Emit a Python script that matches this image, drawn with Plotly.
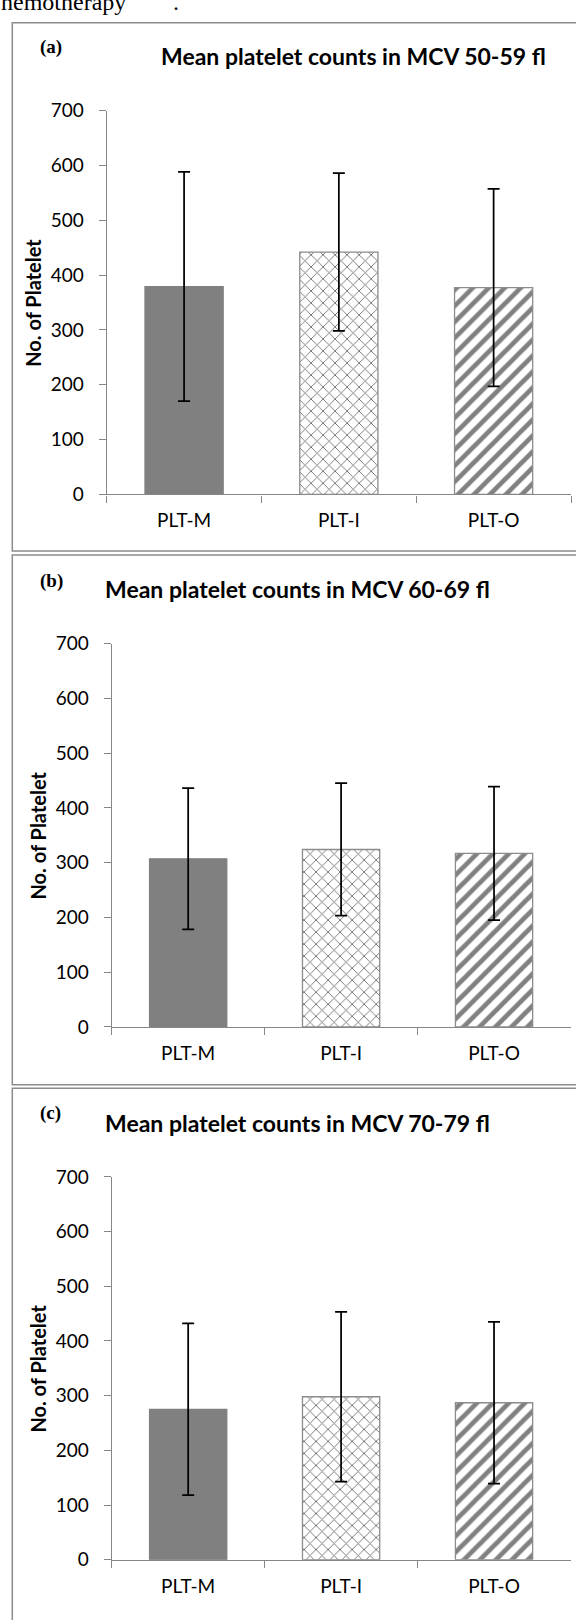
import plotly.graph_objects as go

# ---- data ----
categories = ["PLT-M", "PLT-I", "PLT-O"]
panel_titles = ["Mean platelet counts in MCV 50-59 fl",
                "Mean platelet counts in MCV 60-69 fl",
                "Mean platelet counts in MCV 70-79 fl"]
panel_tags = ["(a)", "(b)", "(c)"]
means_a = [379, 442, 377]
errors_a = [209, 144, 180]
means_b = [307, 324, 317]
errors_b = [129, 121, 122]
means_c = [275, 298, 287]
errors_c = [157, 155, 148]
y_ticks = [0, 100, 200, 300, 400, 500, 600, 700]
y_title = "No. of Platelet"

W, H = 576, 1620
def px(x):
    return x / W
def py(y):
    return 1 - y / H

GRAY = "#868686"
SANS = "Lato"

# per-category bar styles
bar_styles = [
    dict(color="#808080", line="#808080", shape="", fg="#808080", size=8, solidity=0.2),
    dict(color="#ffffff", line="#8c8c8c", shape="x", fg="#707070", size=8.5, solidity=0.2),
    dict(color="#ffffff", line="#8c8c8c", shape="/", fg="#808080", size=11.3, solidity=0.42),
]

fig = go.Figure()

panels = [
    dict(means=means_a, errs=errors_a, x0=106.7, x1=571.0, y700=100.0, y0=489.3,
         top=11.0, bottom=546.7, tag=(50.5, 36.0), title=(159.3, 45.0), ytit=33.3),
    dict(means=means_b, errs=errors_b, x0=111.7, x1=570.5, y700=640.7, y0=1029.5,
         top=550.7, bottom=1088.3, tag=(51.0, 576.7), title=(103.3, 585.0), ytit=38.3),
    dict(means=means_c, errs=errors_c, x0=111.7, x1=570.5, y700=1181.7, y0=1570.0,
         top=1091.7, bottom=1650.0, tag=(50.5, 1117.0), title=(103.3, 1126.7), ytit=38.3),
]

annotations = []
shapes = []
for i, p in enumerate(panels):
    n = i + 1
    xa = "x" if n == 1 else f"x{n}"
    ya = "y" if n == 1 else f"y{n}"
    for j, cat in enumerate(categories):
        s = bar_styles[j]
        marker = dict(color=s["color"], line=dict(color=s["line"], width=1.3))
        if s["shape"]:
            marker["pattern"] = dict(shape=s["shape"], fgcolor=s["fg"], bgcolor=s["color"],
                                     size=s["size"], solidity=s["solidity"],
                                     fillmode="replace")
        fig.add_trace(go.Bar(
            x=[cat], y=[p["means"][j]], xaxis=xa, yaxis=ya, width=0.505,
            marker=marker,
            error_y=dict(type="data", array=[p["errs"][j]], visible=True,
                         color="black", thickness=1.75, width=6),
            showlegend=False, hoverinfo="skip",
        ))
    xkey = "xaxis" if n == 1 else f"xaxis{n}"
    ykey = "yaxis" if n == 1 else f"yaxis{n}"
    fig.update_layout({
        xkey: dict(domain=[px(p["x0"]), px(p["x1"])], anchor=ya, type="category",
                   categoryorder="array", categoryarray=categories,
                   showline=True, linecolor=GRAY, linewidth=1.3,
                   ticks="outside", tickson="boundaries", ticklen=7,
                   tickcolor=GRAY, tickwidth=1.3, showgrid=False,
                   tickfont=dict(family=SANS, size=19, color="#000000"),
                   ticklabelstandoff=9, fixedrange=True),
        ykey: dict(domain=[py(p["y0"]), py(p["y700"])], anchor=xa,
                   range=[0, 700], tickvals=y_ticks,
                   showline=True, linecolor=GRAY, linewidth=1.3,
                   ticks="outside", ticklen=7, tickcolor=GRAY, tickwidth=1.3,
                   showgrid=False, zeroline=False,
                   tickfont=dict(family=SANS, size=19, color="#000000"),
                   ticklabelstandoff=11, fixedrange=True),
    })
    # panel frame
    shapes.append(dict(type="rect", xref="paper", yref="paper",
                       x0=px(12.3), x1=px(590), y0=py(p["bottom"]), y1=py(p["top"]),
                       line=dict(color="#8c8c8c", width=1.5), fillcolor="rgba(0,0,0,0)",
                       layer="below"))
    annotations.append(dict(text=panel_tags[i], xref="paper", yref="paper",
                            x=px(p["tag"][0]), y=py(p["tag"][1]),
                            xanchor="center", yanchor="middle", showarrow=False,
                            font=dict(family="Liberation Serif", size=19, color="#000000",
                                      weight="bold")))
    annotations.append(dict(text=panel_titles[i], xref="paper", yref="paper",
                            x=px(p["title"][0]), y=py(p["title"][1]),
                            xanchor="left", yanchor="middle", showarrow=False,
                            font=dict(family=SANS, size=23, color="#000000", weight="bold")))
    annotations.append(dict(text=y_title, xref="paper", yref="paper",
                            x=px(p["ytit"]), y=py((p["y700"] + p["y0"]) / 2),
                            xanchor="center", yanchor="middle", textangle=-90,
                            showarrow=False,
                            font=dict(family=SANS, size=20, color="#000000", weight="bold")))

# cropped line of page text at very top (the reference shows only its lower part)
annotations.append(dict(text="hemotherapy", xref="paper", yref="paper",
                        x=px(-1), y=py(5), xanchor="left", yanchor="bottom",
                        showarrow=False,
                        font=dict(family="Liberation Serif", size=24, color="#000000")))
annotations.append(dict(text=".", xref="paper", yref="paper",
                        x=px(175.5), y=py(5), xanchor="center", yanchor="bottom",
                        showarrow=False,
                        font=dict(family="Liberation Serif", size=24, color="#000000")))

fig.update_layout(
    width=W, height=H,
    margin=dict(l=0, r=0, t=0, b=0),
    paper_bgcolor="white", plot_bgcolor="white",
    barmode="overlay",
    shapes=shapes, annotations=annotations,
)

fig.write_html(
    "out.html",
    config={"displayModeBar": False},
    post_script="document.body.style.margin='0';document.body.style.padding='0';",
)
